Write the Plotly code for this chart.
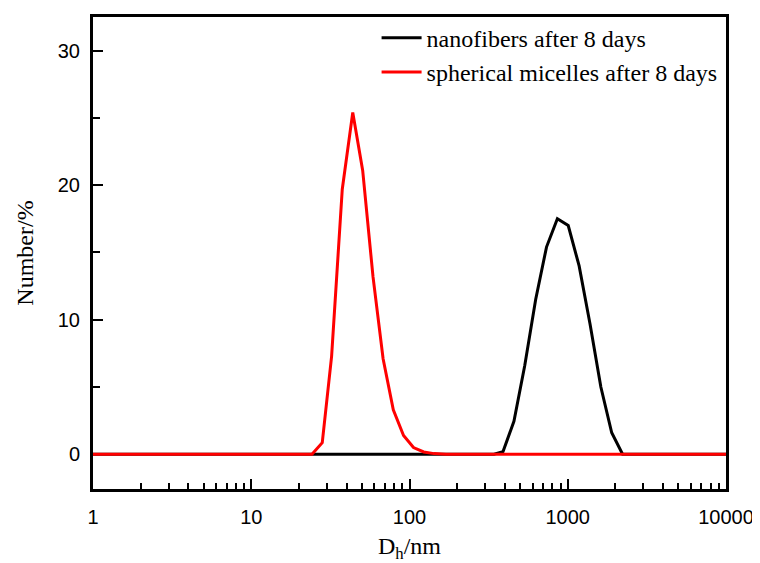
import plotly.graph_objects as go

# ---- data ----
nano_x = [1, 10, 100, 342, 390, 457, 535, 627, 734, 860, 1007, 1180, 1382, 1619, 1896, 2221, 10000]
nano_y = [0, 0, 0, 0, 0.2, 2.45, 6.6, 11.5, 15.4, 17.5, 17.0, 14.0, 9.7, 5.0, 1.6, 0, 0]

mic_x = [1, 10, 20.8, 24.2, 28.1, 32.2, 37.6, 43.8, 50.6, 58.8, 68.1, 79, 91.7, 106, 123, 143, 170, 1000, 10000]
mic_y = [0, 0, 0, 0, 0.86, 7.3, 19.7, 25.4, 21.1, 13.2, 7.1, 3.3, 1.4, 0.5, 0.17, 0.05, 0, 0, 0]

x_tickvals = [1, 10, 100, 1000, 10000]
x_ticktext = ["1", "10", "100", "1000", "10000"]
x_minor = [m * d for d in [1, 10, 100, 1000] for m in [2, 3, 4, 5, 6, 7, 8, 9]]
y_tickvals = [0, 10, 20, 30]
y_minor = [5, 15, 25]

fig = go.Figure()
fig.add_trace(go.Scatter(x=nano_x, y=nano_y, mode="lines", name="nanofibers after 8 days",
                         line=dict(color="black", width=3)))
fig.add_trace(go.Scatter(x=mic_x, y=mic_y, mode="lines", name="spherical micelles after 8 days",
                         line=dict(color="#ff0000", width=3)))

# page body has an 8px margin, so the figure is offset by (8, 8)
fig.update_layout(
    width=752, height=555,
    margin=dict(l=85, r=30, t=6, b=73),
    plot_bgcolor="white", paper_bgcolor="white",
    showlegend=True,
    legend=dict(x=0.448, y=1.003, xanchor="left", yanchor="top",
                font=dict(family="Liberation Serif", size=24, color="black"),
                bgcolor="rgba(0,0,0,0)", tracegroupgap=0, itemwidth=40),
    xaxis=dict(
        type="log", range=[0, 4],
        tickvals=x_tickvals, ticktext=x_ticktext,
        ticks="inside", ticklen=10, tickwidth=2, tickcolor="black",
        minor=dict(tickvals=x_minor, ticks="inside", ticklen=6, tickwidth=2, tickcolor="black", showgrid=False),
        showline=True, linewidth=3, linecolor="black", mirror=True,
        showgrid=False, zeroline=False, layer="below traces",
        ticklabelstandoff=8,
        tickfont=dict(family="Liberation Sans", size=20, color="black"),
        title=dict(text="D<sub>h</sub>/nm", font=dict(family="Liberation Serif", size=24, color="black"), standoff=12),
    ),
    yaxis=dict(
        range=[-2.58, 32.5],
        tickvals=y_tickvals,
        ticks="inside", ticklen=10, tickwidth=2, tickcolor="black",
        minor=dict(tickvals=y_minor, ticks="inside", ticklen=7, tickwidth=2, tickcolor="black", showgrid=False),
        showline=True, linewidth=3, linecolor="black", mirror=True,
        showgrid=False, zeroline=False, layer="below traces",
        ticklabelstandoff=6,
        tickfont=dict(family="Liberation Sans", size=20, color="black"),
        title=dict(text="Number/%", font=dict(family="Liberation Serif", size=24, color="black"), standoff=18),
    ),
)

fig.write_html("out.html")
